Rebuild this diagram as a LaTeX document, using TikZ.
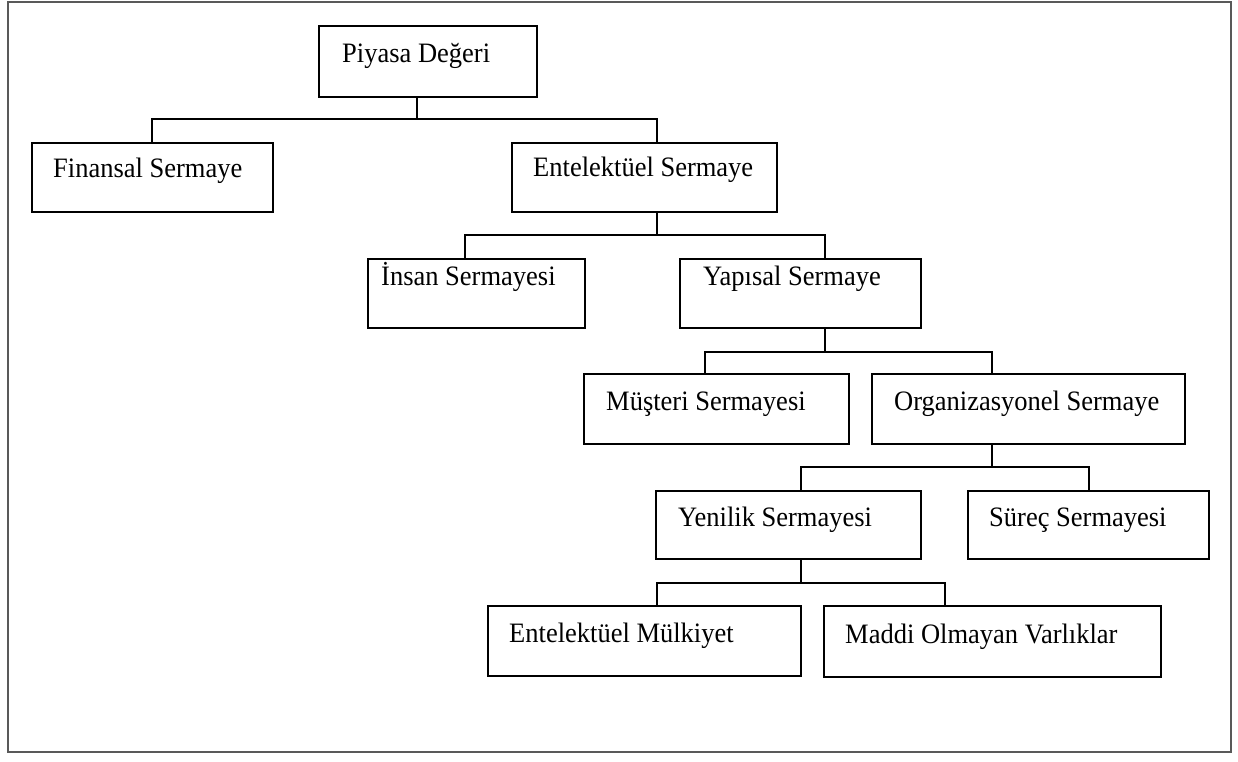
\documentclass[tikz,border=0pt]{standalone}
\usepackage{fontspec}
\setmainfont{Liberation Serif}
\newcommand{\tall}[1]{\scalebox{1}[1.06]{#1}}
\begin{document}
\begin{tikzpicture}[x=1pt,y=-1pt,
  box/.style={draw=black, line width=2.5pt, rectangle, inner sep=0pt},
  conn/.style={draw=black, line width=1.4pt},
  lbl/.style={anchor=base west, inner sep=0pt, font=\fontsize{26.5}{30}\selectfont},
  frame/.style={draw=black!65, line width=1.3pt}]
\useasboundingbox (0,0) rectangle (1238,762);
\draw[frame] (8,2) rectangle (1231,752);

% boxes given by their corners: name, left, top, right, bottom
\newcommand{\orgbox}[5]{%
  \node[box, minimum width=#4-#2, minimum height=#5-#3] (#1) at ({(#2+#4)/2},{(#3+#5)/2}) {};}
\orgbox{pv}{319}{26}{537}{97}
\orgbox{fin}{32}{143}{273}{212}
\orgbox{ent}{512}{143}{777}{212}
\orgbox{ins}{368}{259}{585}{328}
\orgbox{yap}{680}{259}{921}{328}
\orgbox{mus}{584}{374}{849}{444}
\orgbox{org}{872}{374}{1185}{444}
\orgbox{yen}{656}{491}{921}{559}
\orgbox{sur}{968}{491}{1209}{559}
\orgbox{em}{488}{606}{801}{676}
\orgbox{mad}{824}{606}{1161}{677}

% labels
\node[lbl] (pv-t)  at (342,63)  {\tall{Piyasa Değeri}};
\node[lbl] (fin-t) at (53,178)  {\tall{Finansal Sermaye}};
\node[lbl] (ent-t) at (533,177) {\tall{Entelektüel Sermaye}};
\node[lbl] (ins-t) at (381,285) {\tall{İnsan Sermayesi}};
\node[lbl] (yap-t) at (703,285) {\tall{Yapısal Sermaye}};
\node[lbl] (mus-t) at (606,410) {\tall{Müşteri Sermayesi}};
\node[lbl] (org-t) at (894,410) {\tall{Organizasyonel Sermaye}};
\node[lbl] (yen-t) at (678,526) {\tall{Yenilik Sermayesi}};
\node[lbl] (sur-t) at (989,526) {\tall{Süreç Sermayesi}};
\node[lbl] (em-t)  at (509,642) {\tall{Entelektüel Mülkiyet}};
\node[lbl] (mad-t) at (845,643) {\tall{Maddi Olmayan Varlıklar}};

% tier buses: split point, left drop, right drop
\coordinate (s1) at (417,119); \coordinate (l1) at (152,119); \coordinate (r1) at (657,119);
\coordinate (s2) at (657,235); \coordinate (l2) at (465,235); \coordinate (r2) at (825,235);
\coordinate (s3) at (825,352); \coordinate (l3) at (705,352); \coordinate (r3) at (992,352);
\coordinate (s4) at (992,467); \coordinate (l4) at (801,467); \coordinate (r4) at (1089,467);
\coordinate (s5) at (801,583); \coordinate (l5) at (657,583); \coordinate (r5) at (945,583);

\draw[conn] (pv.south -| s1) -- (s1);
\draw[conn] (fin.north -| l1) -- (l1) -- (r1) -- (ent.north -| r1);
\draw[conn] (ent.south -| s2) -- (s2);
\draw[conn] (ins.north -| l2) -- (l2) -- (r2) -- (yap.north -| r2);
\draw[conn] (yap.south -| s3) -- (s3);
\draw[conn] (mus.north -| l3) -- (l3) -- (r3) -- (org.north -| r3);
\draw[conn] (org.south -| s4) -- (s4);
\draw[conn] (yen.north -| l4) -- (l4) -- (r4) -- (sur.north -| r4);
\draw[conn] (yen.south -| s5) -- (s5);
\draw[conn] (em.north -| l5) -- (l5) -- (r5) -- (mad.north -| r5);
\end{tikzpicture}
\end{document}
